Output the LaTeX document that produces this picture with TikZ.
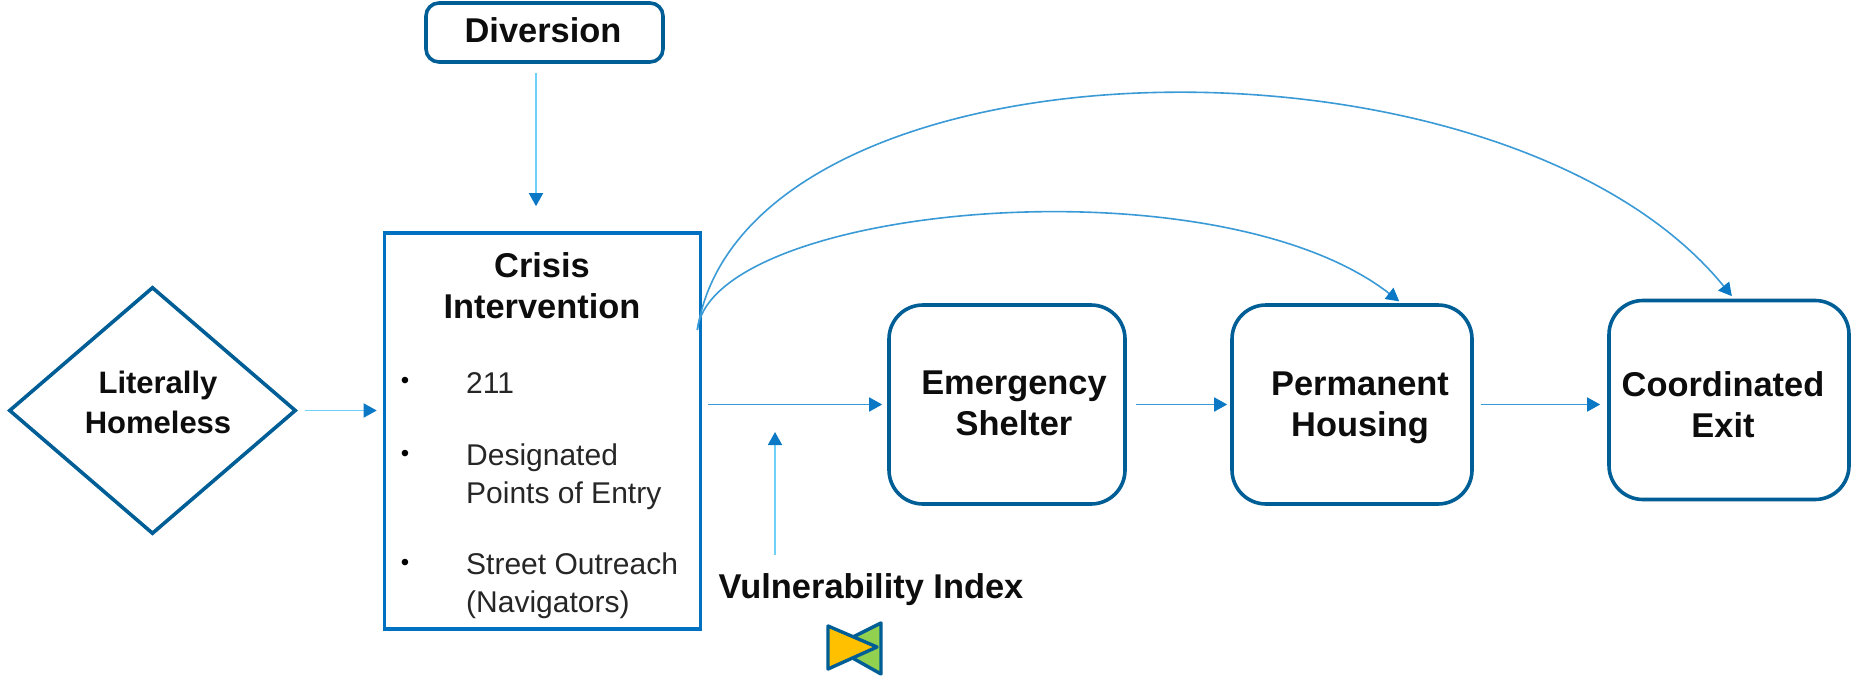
\documentclass[tikz,border=0pt]{standalone}
\usepackage{fontspec}
\setmainfont{Liberation Sans}
\usetikzlibrary{arrows.meta,shapes.geometric,calc}
\definecolor{boxblue}{HTML}{0070C0}
\definecolor{darkblue}{HTML}{005E96}
\definecolor{headblue}{HTML}{0A78C4}
\definecolor{cyanline}{HTML}{6FD0F8}
\definecolor{midline}{HTML}{3A9AD6}
\definecolor{yellowfill}{HTML}{FFC000}
\definecolor{greenfill}{HTML}{92D050}
\tikzset{
  roundbox/.style={draw=darkblue,line width=3.6pt,rounded corners=34pt,inner sep=0pt,fill=white},
  headtxt/.style={font=\fontsize{34.4}{41}\selectfont\bfseries,align=center,inner sep=0pt,text=black!95},
  smallhead/.style={font=\fontsize{31}{40}\selectfont\bfseries,align=center,inner sep=0pt,text=black!95},
  bodytxt/.style={font=\fontsize{30}{38}\selectfont,align=left,anchor=west,inner sep=0pt,text=black!85},
  dotmark/.style={font=\fontsize{24}{24}\selectfont,inner sep=0pt,text=black},
  flowtip/.style={-{Triangle[length=13pt,width=14pt,color=headblue]}},
  cyanarrow/.style={flowtip,draw=cyanline,line width=1.6pt},
  midarrow/.style={flowtip,draw=midline,line width=1.6pt},
  icon/.style={draw=darkblue,line width=3.4pt,line join=round}
}
\begin{document}
\begin{tikzpicture}[x=1pt,y=-1pt]
\useasboundingbox (0,0) rectangle (1855,677);
% shapes
\node[diamond,draw=darkblue,line width=3.6pt,minimum width=287pt,minimum height=247pt,inner sep=0pt] (lit) at (152.5,410.5) {};
\node[draw=boxblue,line width=3.6pt,minimum width=316pt,minimum height=396pt,inner sep=0pt] (crisis) at (542.5,431) {};
\node[roundbox,rounded corners=13pt,minimum width=237pt,minimum height=59pt] (div) at (544.5,32.5) {};
\node[roundbox,minimum width=236pt,minimum height=199pt] (es) at (1007,404.5) {};
\node[roundbox,minimum width=240pt,minimum height=199pt] (ph) at (1352,404.5) {};
\node[roundbox,minimum width=240pt,minimum height=199pt] (ce) at (1729,400) {};
% texts
\node[smallhead] (littext) at (158,402) {Literally\\Homeless};
\node[headtxt] (divtext) at (543,30) {Diversion};
\node[headtxt] (crisistext) at (542,286) {Crisis\\Intervention};
\node[dotmark] (b1) at (405,383) {•};
\node[dotmark] (b2) at (405,456) {•};
\node[dotmark] (b3) at (405,565) {•};
\node[bodytxt] (t1) at (466,383) {211};
\node[bodytxt] (t2) at (466,477) {Designated\\Points of Entry};
\node[bodytxt] (t3) at (466,586) {Street Outreach\\(Navigators)};
\node[headtxt] (estext) at (1014,403) {Emergency\\Shelter};
\node[headtxt] (phtext) at (1360,408) {Permanent\\Housing};
\node[headtxt] (cetext) at (1723,405) {Coordinated\\Exit};
\node[headtxt] (vi) at (871,590) {Vulnerability Index};
% icon
\coordinate (vitip) at (775,432);
\filldraw[icon,fill=greenfill] (881,623) -- (833,647) -- (881,674) -- cycle;
\filldraw[icon,fill=yellowfill] (828,626) -- (877,647) -- (828,669) -- cycle;
% connectors
\draw[cyanarrow,shorten <=7pt,shorten >=6pt] (lit.east) -- (lit.east -| crisis.west);
\draw[cyanarrow,shorten <=9pt,shorten >=25pt] ([xshift=-8.5pt]div.south) -- ([xshift=-8.5pt]div.south |- crisis.north);
\draw[cyanarrow,shorten <=19pt] ([xshift=-96pt]vi.north) -- (vitip);
\draw[midarrow,shorten <=6pt,shorten >=5pt] (es.west -| crisis.east) -- (es.west);
\draw[midarrow,shorten <=9pt,shorten >=3pt] (es.east) -- (ph.west);
\draw[midarrow,shorten <=7pt,shorten >=7pt] (ph.east) -- (ph.east -| ce.west);
\coordinate (fork) at ($(crisis.east)+(-5,-101)$);
\draw[midarrow,shorten >=6pt] (fork) .. controls (712,205) and (1215,158) .. (1404,305);
\draw[midarrow,shorten >=5pt] (fork) .. controls (745,30) and (1500,12) .. (1735,300);
\end{tikzpicture}
\end{document}
